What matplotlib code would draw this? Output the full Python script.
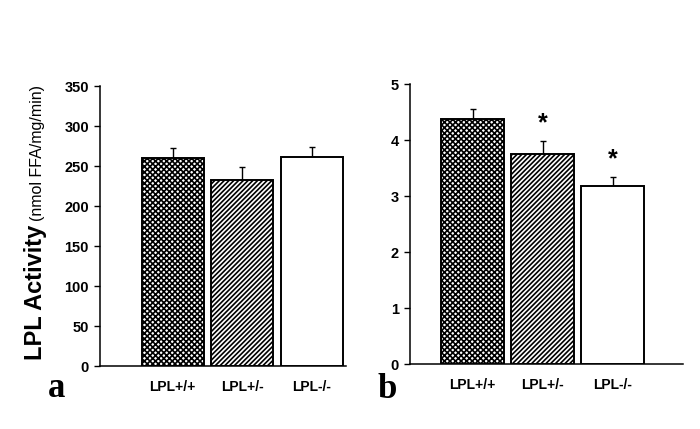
import matplotlib
matplotlib.use('Agg')
import matplotlib.pyplot as plt

groups = ['LPL+/+', 'LPL+/-', 'LPL-/-']
activity_a = [260, 233, 261]
err_a = [12, 16, 13]
activity_b = [4.38, 3.76, 3.19]
err_b = [0.18, 0.23, 0.16]
stars_b = ['', '*', '*']

hatches = ['x' * 6, '/' * 7, '']

plt.rcParams['font.family'] = ['Liberation Sans', 'DejaVu Sans']
plt.rcParams['hatch.linewidth'] = 1.2

fig = plt.figure(figsize=(7, 4.29), dpi=100)


def draw_panel(ax, values, errs, yticks, xlim):
    x = range(len(values))
    for i in x:
        ax.bar(i, values[i], width=0.89, color='white', edgecolor='black',
               linewidth=1.4, hatch=hatches[i], zorder=3)
        ax.errorbar(i, values[i], yerr=[[0], [errs[i]]], fmt='none',
                    ecolor='black', elinewidth=1.0, capsize=2.5, capthick=1.0, zorder=2)
    ax.set_xlim(*xlim)
    ax.set_ylim(yticks[0], yticks[-1])
    ax.set_yticks(yticks)
    ax.set_xticks(list(x))
    ax.set_xticklabels(groups, fontsize=10, fontweight='bold')
    ax.tick_params(axis='x', length=0, pad=10)
    ax.tick_params(axis='y', direction='out', length=4, width=1, labelsize=10.5, pad=4)
    for lab in ax.get_yticklabels():
        lab.set_fontweight('bold')
    ax.spines['top'].set_visible(False)
    ax.spines['right'].set_visible(False)
    for s in ('left', 'bottom'):
        ax.spines[s].set_linewidth(1.1)


ax_a = fig.add_axes([100 / 700, 1 - 366 / 429, 246 / 700, 280 / 429])
draw_panel(ax_a, activity_a, err_a, [0, 50, 100, 150, 200, 250, 300, 350], (-1.043, 2.49))

ax_b = fig.add_axes([410 / 700, 1 - 364.3 / 429, 273 / 700, 280 / 429])
draw_panel(ax_b, activity_b, err_b, [0, 1, 2, 3, 4, 5], (-0.893, 3.007))
for i, s in enumerate(stars_b):
    if s:
        ax_b.text(i, activity_b[i] + err_b[i] + 0.1, s, ha='center', va='bottom',
                  fontsize=18, fontweight='bold')

# y label: bold part followed by the units
fig.text(42 / 700, 1 - 360 / 429, 'LPL Activity', rotation=90, rotation_mode='anchor',
         ha='left', va='baseline', fontsize=17, fontweight='bold')
fig.text(42 / 700, 1 - 221 / 429, '(nmol FFA/mg/min)', rotation=90, rotation_mode='anchor',
         ha='left', va='baseline', fontsize=11.5)

fig.text(48 / 700, 1 - 397 / 429, 'a', fontsize=25, fontweight='bold',
         family='Liberation Serif', ha='left', va='baseline')
fig.text(378 / 700, 1 - 398 / 429, 'b', fontsize=25, fontweight='bold',
         family='Liberation Serif', ha='left', va='baseline')

fig.savefig('out.png', dpi=100, facecolor='white')
